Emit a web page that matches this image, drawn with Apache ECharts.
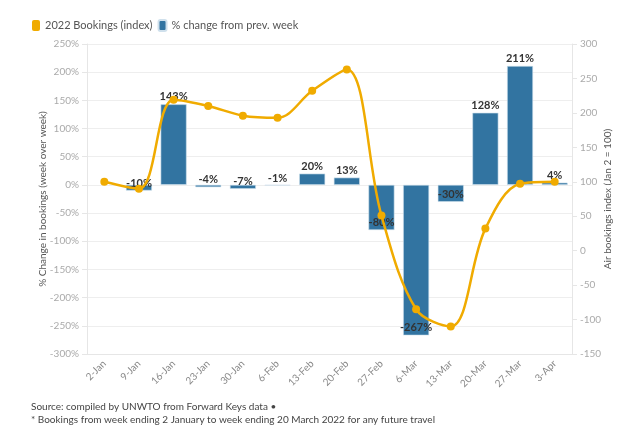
<!DOCTYPE html>
<html><head><meta charset="utf-8">
<script src="https://cdn.jsdelivr.net/npm/echarts@6/dist/echarts.min.js"></script>
<style>html,body{margin:0;padding:0;background:#fff}#c{width:634px;height:433px}</style>
</head><body><div id="c"></div>
<script>
var categories = ['2-Jan','9-Jan','16-Jan','23-Jan','30-Jan','6-Feb','13-Feb','20-Feb','27-Feb','6-Mar','13-Mar','20-Mar','27-Mar','3-Apr'];
var pctChange = [null,-10,143,-4,-7,-1,20,13,-80,-267,-30,128,211,4];
var bookingsIndex = [100,90,219,210,196,193,232,263,51,-85,-110,32,97,100];
var leftTicks = {min:-300,max:250,interval:50};
var rightTicks = {min:-150,max:300,interval:50};

var F = 'Lato, "Noto Sans", sans-serif';
var chart = echarts.init(document.getElementById('c'));
var barData = pctChange.map(function(v){
  if (v === null) return {value:null};
  return {value:v, label:{position: v>=0 ? 'top' : 'insideBottom', distance: 2}};
});
chart.setOption({
  animation:false,
  textStyle:{fontFamily:F},
  legend:{left:27,top:14,itemGap:5,itemWidth:8,itemHeight:11,icon:'roundRect',
    textStyle:{fontFamily:F,fontSize:11,color:'#555'},
    data:['2022 Bookings (index)','% change from prev. week']},
  grid:{left:87,right:62,top:44,bottom:79,containLabel:false},
  xAxis:{type:'category',data:categories,
    axisLine:{onZero:false,lineStyle:{color:'#e6e6e6'}},
    axisTick:{alignWithLabel:true,length:5,lineStyle:{color:'#e0e0e0'}},
    axisLabel:{rotate:45,fontSize:10,color:'#888',fontFamily:F,margin:8}},
  yAxis:[
    {type:'value',min:leftTicks.min,max:leftTicks.max,interval:leftTicks.interval,
     name:'% Change in bookings (week over week)',nameLocation:'middle',nameGap:39,nameRotate:90,nameMoveOverlap:false,
     nameTextStyle:{fontSize:10,color:'#555',fontFamily:F},
     axisLine:{show:true,lineStyle:{color:'#e6e6e6'}},
     axisTick:{show:true,length:5,lineStyle:{color:'#e6e6e6'}},
     axisLabel:{formatter:'{value}%',fontSize:10,color:'#aaa',fontFamily:F,margin:8},
     splitLine:{lineStyle:{color:'#eeeeee'}}},
    {type:'value',min:rightTicks.min,max:rightTicks.max,interval:rightTicks.interval,position:'right',
     name:'Air bookings index (Jan 2 = 100)',nameLocation:'middle',nameGap:31,nameRotate:90,nameMoveOverlap:false,
     nameTextStyle:{fontSize:10,color:'#555',fontFamily:F},
     axisLine:{show:true,lineStyle:{color:'#e6e6e6'}},
     axisTick:{show:true,length:5,lineStyle:{color:'#e6e6e6'}},
     axisLabel:{fontSize:10,color:'#aaa',fontFamily:F,margin:8},
     splitLine:{show:false}}
  ],
  series:[
    {name:'% change from prev. week',type:'bar',yAxisIndex:0,data:barData,barWidth:'75%',
     itemStyle:{color:'#3274a1',borderColor:'#cfe0ec',borderWidth:0.6},
     label:{show:true,formatter:function(p){return p.value+'%';},fontSize:11,fontWeight:'bold',color:'#333',fontFamily:F},
     z:2},
    {name:'2022 Bookings (index)',type:'line',yAxisIndex:1,data:bookingsIndex,smooth:0.35,
     symbol:'circle',symbolSize:8,showSymbol:true,
     itemStyle:{color:'#f0ab00'},lineStyle:{color:'#f0ab00',width:2.5},z:3}
  ],
  color:['#f0ab00','#3274a1'],
  graphic:[
    {type:'text',left:31,top:402,style:{text:'Source: compiled by UNWTO from Forward Keys data •',fontSize:10,fill:'#444',fontFamily:F}},
    {type:'text',left:31,top:415,style:{text:'* Bookings from week ending 2 January to week ending 20 March 2022 for any future travel',fontSize:10,fill:'#444',fontFamily:F}}
  ]
});
</script></body></html>
